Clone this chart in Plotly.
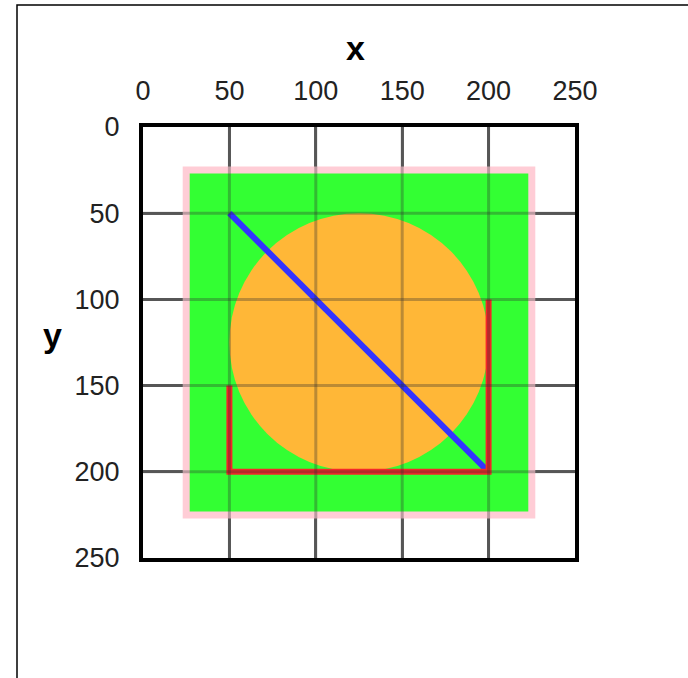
import plotly.graph_objects as go

# ---- data ----
tick_vals = [0, 50, 100, 150, 200, 250]
grid_vals = [50, 100, 150, 200]
rect_x = [25, 225]
rect_y = [25, 225]
circle_center = [125, 125]
circle_radius = 75
blue_x = [50, 200]
blue_y = [50, 200]
red_x = [50, 50, 200, 200]
red_y = [150, 200, 200, 100]

# plot area in page pixels
L, R, T, B = 143, 575, 127, 558
W, H = 688, 678
PW, PH = R - L, B - T

GRID = "rgb(105,105,105)"
GRID_OVER = "rgba(50,50,50,0.33)"

fig = go.Figure()
fig.add_trace(go.Scatter(x=[0, 250], y=[0, 250], mode="markers",
                         marker=dict(opacity=0), hoverinfo="skip", showlegend=False))

shapes = []
shapes.append(dict(type="rect", xref="x", yref="y",
                   x0=rect_x[0], x1=rect_x[1], y0=rect_y[0], y1=rect_y[1],
                   fillcolor="rgb(51,255,51)", line=dict(color="rgb(255,205,214)", width=7),
                   layer="above"))
shapes.append(dict(type="circle", xref="x", yref="y",
                   x0=circle_center[0] - circle_radius, x1=circle_center[0] + circle_radius,
                   y0=circle_center[1] - circle_radius, y1=circle_center[1] + circle_radius,
                   fillcolor="rgb(255,183,55)", line=dict(width=0), layer="above"))
path = "M " + " L ".join(f"{x},{y}" for x, y in zip(blue_x, blue_y))
shapes.append(dict(type="path", xref="x", yref="y", path=path,
                   line=dict(color="rgb(51,51,255)", width=6), layer="above"))
path = "M " + " L ".join(f"{x},{y}" for x, y in zip(red_x, red_y))
shapes.append(dict(type="path", xref="x", yref="y", path=path,
                   line=dict(color="rgb(245,40,40)", width=6), layer="above"))
for g in grid_vals:
    shapes.append(dict(type="line", xref="x", yref="y", x0=g, x1=g, y0=tick_vals[0], y1=tick_vals[-1],
                       line=dict(color=GRID_OVER, width=3), layer="above"))
    shapes.append(dict(type="line", xref="x", yref="y", y0=g, y1=g, x0=tick_vals[0], x1=tick_vals[-1],
                       line=dict(color=GRID_OVER, width=3), layer="above"))
# outer frame
shapes.append(dict(type="rect", xref="paper", yref="paper",
                   x0=(17 - L) / PW, x1=2, y0=-1, y1=(B - 5) / PH,
                   line=dict(color="black", width=1.5), fillcolor="rgba(0,0,0,0)", layer="above"))

annotations = [
    dict(text="<b>x</b>", xref="paper", yref="paper", x=(355 - L) / PW, y=(B - 48) / PH,
         xanchor="center", yanchor="middle", showarrow=False,
         font=dict(size=34, color="black", family="Liberation Sans, Arial, sans-serif")),
    dict(text="<b>y</b>", xref="paper", yref="paper", x=(52 - L) / PW, y=(B - 335) / PH,
         xanchor="center", yanchor="middle", showarrow=False,
         font=dict(size=34, color="black", family="Liberation Sans, Arial, sans-serif")),
]

font = dict(family="Liberation Sans, Arial, sans-serif", size=27, color="#222")
fig.update_layout(
    width=W, height=H,
    margin=dict(l=L, r=W - R, t=T, b=H - B, pad=0),
    paper_bgcolor="white", plot_bgcolor="white",
    shapes=shapes, annotations=annotations,
    font=font,
    xaxis=dict(range=[0, 250], side="top", tickvals=tick_vals, showgrid=True,
               gridcolor=GRID, gridwidth=3, zeroline=False,
               showline=True, mirror=True, linecolor="black", linewidth=4,
               ticks="", ticklabelstandoff=12),
    yaxis=dict(range=[250, 0], tickvals=tick_vals, showgrid=True,
               gridcolor=GRID, gridwidth=3, zeroline=False,
               showline=True, mirror=True, linecolor="black", linewidth=4,
               ticks="", ticklabelstandoff=14),
)
fig.write_html("out.html", config={"displayModeBar": False},
               post_script="document.body.style.margin='0px';")
